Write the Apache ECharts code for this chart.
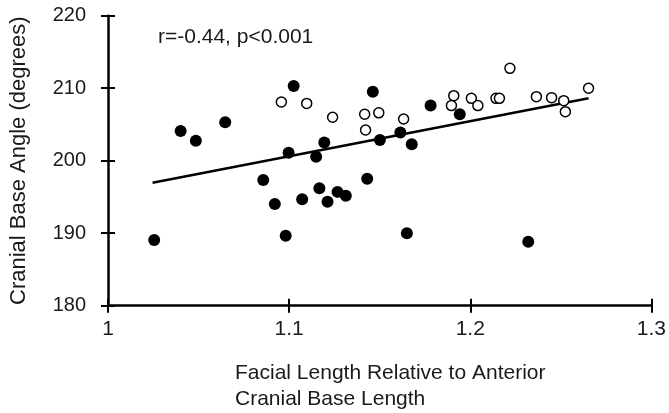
<!DOCTYPE html>
<html>
<head>
<meta charset="utf-8">
<script src="https://cdn.jsdelivr.net/npm/echarts@6/dist/echarts.min.js"></script>
<style>
html,body{margin:0;padding:0;background:#fff;}
#chart{width:669px;height:413px;}
</style>
</head>
<body>
<div id="chart"></div>
<script>
// Filled circles
const filledX = [1.0255,1.0401,1.0485,1.0647,1.0857,1.0921,1.0981,1.0997,1.1025,1.1072,1.1149,1.1167,1.1194,1.1212,1.1267,1.1313,1.1431,1.1462,1.1501,1.1614,1.1650,1.1677,1.1781,1.1942,1.2320];
const filledY = [189.06,204.1,202.76,205.3,197.34,194.03,189.66,201.1,210.3,194.68,200.55,196.2,202.5,194.35,195.7,195.17,197.5,209.5,202.86,203.9,189.99,202.26,207.6,206.4,188.83];
// Open circles
const openX = [1.0957,1.1097,1.1240,1.1417,1.1422,1.1495,1.1632,1.1896,1.1909,1.2006,1.2042,1.2142,1.2161,1.2219,1.2365,1.2449,1.2516,1.2525,1.2653];
const openY = [208.1,207.9,206.0,206.4,204.23,206.6,205.75,207.6,208.97,208.6,207.6,208.6,208.6,212.74,208.83,208.7,208.28,206.76,210.0];
// Regression line end points
const trendX = [1.0246, 1.2653];
const trendY = [196.97, 208.6];
// Tick labels
const xTickLabels = ['1','1.1','1.2','1.3'];
const yTickLabels = ['180','190','200','210','220'];
const annotation = 'r=-0.44, p<0.001';
const xTitle = 'Facial Length Relative to Anterior\nCranial Base Length';
const yTitle = 'Cranial Base Angle (degrees)';

const FONT = '"Liberation Sans", Arial, sans-serif';
const TXT = '#1a1a1a';
const zip = (a,b) => a.map((v,i)=>[v,b[i]]);

const chart = echarts.init(document.getElementById('chart'), null, {renderer:'canvas'});
const xBase = {min:1, max:1.3, interval:0.1, splitLine:{show:false}};
const yBase = {min:180, max:220, interval:10, splitLine:{show:false}};
chart.setOption({
  animation:false,
  backgroundColor:'#fff',
  grid:{left:106.7, right:14, top:15.7, bottom:107.3},
  title:[{
    text:xTitle, left:235, top:360, padding:0,
    textStyle:{fontFamily:FONT, fontSize:21, fontWeight:'normal', color:TXT, lineHeight:26}
  },{
    text:annotation, left:158, top:27, padding:0,
    textStyle:{fontFamily:FONT, fontSize:21, fontWeight:'normal', color:TXT}
  }],
  xAxis:[Object.assign({}, xBase, {
    type:'value',
    axisLine:{show:true, onZero:false, lineStyle:{color:'#000', width:2.5}},
    axisTick:{show:true, length:7, lineStyle:{color:'#000', width:2}},
    axisLabel:{margin:13, fontFamily:FONT, fontSize:21, color:TXT,
      formatter:(v)=>xTickLabels[Math.round((v-1)/0.1)]}
  }), Object.assign({}, xBase, {
    type:'value', position:'bottom',
    axisLine:{show:false},
    axisTick:{show:true, inside:true, length:7, lineStyle:{color:'#000', width:2}},
    axisLabel:{show:false}
  })],
  yAxis:[Object.assign({}, yBase, {
    type:'value',
    name:yTitle, nameLocation:'middle', nameGap:78,
    nameTextStyle:{fontFamily:FONT, fontSize:22, color:TXT},
    axisLine:{show:true, onZero:false, lineStyle:{color:'#000', width:2.5}},
    axisTick:{show:true, length:7, lineStyle:{color:'#000', width:2}},
    axisLabel:{margin:22, fontFamily:FONT, fontSize:20, color:TXT,
      formatter:(v)=>yTickLabels[Math.round((v-180)/10)]}
  }), Object.assign({}, yBase, {
    type:'value', position:'left',
    axisLine:{show:false},
    axisTick:{show:true, inside:true, length:7, lineStyle:{color:'#000', width:2}},
    axisLabel:{show:false}
  })],
  series:[{
    type:'line', data:zip(trendX,trendY), symbol:'none',
    lineStyle:{color:'#000', width:2.5}, z:2
  },{
    type:'scatter', data:zip(filledX,filledY), symbol:'circle', symbolSize:12,
    itemStyle:{color:'#000', opacity:1}, z:3
  },{
    type:'scatter', data:zip(openX,openY), symbol:'circle', symbolSize:10,
    itemStyle:{color:'#fff', borderColor:'#000', borderWidth:1.5, opacity:1}, z:4
  }]
});
</script>
</body>
</html>
